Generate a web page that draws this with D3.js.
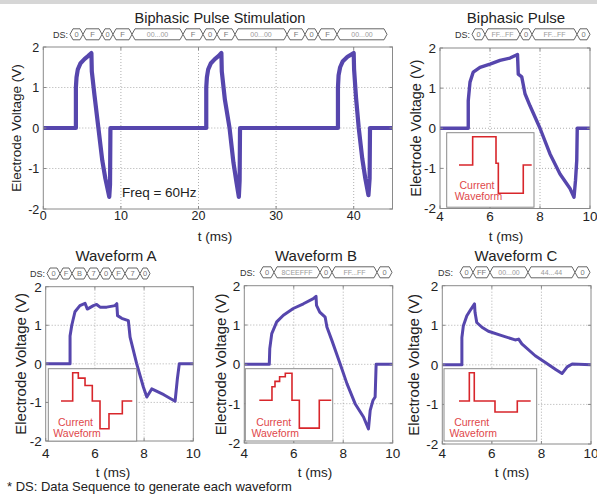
<!DOCTYPE html>
<html><head><meta charset="utf-8">
<script src="https://cdn.jsdelivr.net/npm/d3@7"></script>
<style>
html,body{margin:0;padding:0;background:#fff;}
svg{display:block;font-family:"Liberation Sans",Arial,sans-serif;}
</style></head><body>
<svg id="c" width="597" height="497"></svg>
<script>
// ---------------- DATA ----------------
const panelTitles = ["Biphasic Pulse Stimulation","Biphasic Pulse","Waveform A","Waveform B","Waveform C"];
const xAxisLabel = "t (ms)";
const yAxisLabel = "Electrode Voltage (V)";
const footnote = "* DS: Data Sequence to generate each waveform";
const freqNote = "Freq = 60Hz";
const insetText = ["Current","Waveform"];

const stimTicksX = [0,10,20,30,40];
const waveTicksX = [4,6,8,10];
const voltTicks = [-2,-1,0,1,2];

// [t (ms), V]
const stimTrace = [[0,0],[4.2,0],[4.2,1.0],[4.28,1.25],[4.45,1.45],[4.8,1.6],[5.3,1.7],[5.8,1.78],[6.2,1.85],[6.25,1.4],[6.6,0.8],[7.1,0],[7.6,-0.8],[8.0,-1.25],[8.5,-1.7],[8.6,-1.4],[8.65,0],
  [21.0,0],[21.0,1.0],[21.08,1.25],[21.25,1.45],[21.6,1.6],[22.1,1.7],[22.6,1.78],[22.95,1.85],[23.0,1.4],[23.4,0.7],[24.0,0],[24.5,-0.85],[24.9,-1.35],[25.2,-1.7],[25.3,-1.3],[25.35,0],
  [37.97,0],[37.97,1.0],[38.05,1.3],[38.25,1.5],[38.6,1.65],[39.2,1.76],[40.0,1.85],[40.05,1.45],[40.3,0.75],[40.65,0],[41.1,-0.75],[41.5,-1.25],[41.9,-1.66],[42.05,-1.25],[42.1,0],[45,0]];
const pulseTrace = [[4,0],[5.13,0],[5.13,0.69],[5.2,1.15],[5.33,1.4],[5.6,1.52],[6.0,1.6],[6.4,1.69],[6.8,1.75],[7.1,1.84],[7.13,1.35],[7.27,1.28],[7.4,0.86],[7.6,0.56],[8.0,0],[8.4,-0.64],[8.8,-1.14],[9.2,-1.5],[9.36,-1.72],[9.42,-1.3],[9.47,-0.8],[9.49,0],[10,0]];
const waveATrace = [[4,0],[4.99,0],[4.99,0.72],[5.06,1.0],[5.19,1.35],[5.39,1.51],[5.6,1.57],[5.69,1.42],[5.94,1.51],[6.07,1.54],[6.21,1.47],[6.48,1.47],[6.82,1.51],[6.89,1.56],[6.92,1.25],[7.09,1.18],[7.36,1.12],[7.43,0.69],[7.70,0],[7.97,-0.6],[8.11,-0.86],[8.31,-0.65],[8.8,-0.8],[9.26,-0.97],[9.35,-0.4],[9.43,0],[10,0]];
const waveBTrace = [[4,0],[5.01,0],[5.03,0.4],[5.11,0.78],[5.31,1.08],[5.58,1.25],[5.98,1.42],[6.39,1.54],[6.79,1.67],[6.90,1.73],[6.92,1.5],[7.05,1.33],[7.27,1.2],[7.34,0.95],[7.54,0.61],[7.87,0.02],[8.15,-0.49],[8.48,-1.0],[8.82,-1.34],[9.02,-1.64],[9.09,-1.17],[9.2,-0.92],[9.29,-0.83],[9.33,0],[10,0]];
const waveCTrace = [[4,0],[4.79,0],[4.79,0.69],[4.85,0.99],[4.99,1.24],[5.16,1.41],[5.30,1.54],[5.32,1.33],[5.39,1.07],[5.60,0.95],[5.86,0.85],[6.40,0.74],[6.94,0.63],[7.08,0.65],[7.21,0.53],[7.75,0.23],[8.16,0.06],[8.56,-0.11],[8.83,-0.22],[9.04,-0.05],[9.24,0.02],[10,0]];

// Data sequences (DS)
const dsStim = ["0","F","0","F","00...00","F","0","F","00...00","F","0","F","00...00"];
const dsPulse = ["0","FF...FF","0","FF...FF","0"];
const dsA = ["0","F","B","7","0","F","7","0"];
const dsB = ["0","8CEEFFF","0","FF...FF","0"];
const dsC = ["0","FF","00...00","44...44","0"];

// Inset current waveforms: step edges (% of inset span) and relative levels
const curPulseEdges = [0,18.8,50.9,54.1,88.4,100];
const curPulseLevels = [0,1,0.06,-1,0];
const curAEdges = [0,16.4,24.3,33.7,43.9,54.7,67.3,86,100];
const curALevels = [0,1,0.81,0.55,0,-0.98,-0.45,0];
const curBEdges = [0,17.6,21.8,28.2,36.1,45.4,55.6,83.3,100];
const curBLevels = [0,0.5,0.7,0.87,1,0,-1.03,0];
const curCEdges = [0,14.4,21.3,50.2,81.3,100];
const curCLevels = [0,1,0,-0.39,0];

// ---------------- LAYOUT ----------------
const layout = [
 {trace:stimTrace, xTicks:stimTicksX, xDom:[0,45], xr:[43.3,392.5], yr:[209,47],
  titleX:220, titleY:22.5, titleSize:14.5, yLabX:16, ySize:13.5, xLabX:215, xLabY:241, xSize:13.5,
  tickSize:12.5, tickY:219.5, lw:4.2,
  ds:{labels:dsStim, widths:[13,19,11,19,51,20,14,18,52,18,13,19,50], labelX:53, startX:70, yc:34.3}},
 {trace:pulseTrace, xTicks:waveTicksX, xDom:[4,10], xr:[440,590], yr:[208.5,48],
  titleX:516, titleY:22.5, titleSize:15, yLabX:416, ySize:14.5, xLabX:506, xLabY:241, xSize:13.5,
  tickSize:13.5, tickY:220.5, lw:3.4,
  ds:{labels:dsPulse, widths:[13,35,12,45,13], labelX:455, startX:472, yc:34.3},
  inset:{rect:[446.7,132.7,87.3,74.5], x0:459, x1:531.7, base:165, amp:28.3, tx:477, ty:185, edges:curPulseEdges, levels:curPulseLevels}},
 {trace:waveATrace, xTicks:waveTicksX, xDom:[4,10], xr:[45.7,193.3], yr:[441,286.7],
  titleX:116, titleY:261, titleSize:15, yLabX:21, ySize:15, xLabX:113, xLabY:477, xSize:13.5,
  tickSize:13.5, tickY:458, lw:3,
  ds:{labels:dsA, widths:[13,12,15,13,12,13,15,10], labelX:30, startX:47, yc:273.5},
  inset:{rect:[48.3,368.7,88.4,72.4], x0:61, x1:132.3, base:401, amp:28.3, tx:75.5, ty:422, edges:curAEdges, levels:curALevels}},
 {trace:waveBTrace, xTicks:waveTicksX, xDom:[4,10], xr:[244.3,392.7], yr:[443,285.7],
  titleX:316, titleY:261, titleSize:15, yLabX:221, ySize:15, xLabX:315, xLabY:477, xSize:13.5,
  tickSize:13.5, tickY:458, lw:3,
  ds:{labels:dsB, widths:[14,46,12,45,15], labelX:240, startX:260, yc:272.3},
  inset:{rect:[245.3,368.7,87.4,72.3], x0:259.3, x1:331.3, base:400.3, amp:27, tx:273.7, ty:422, edges:curBEdges, levels:curBLevels}},
 {trace:waveCTrace, xTicks:waveTicksX, xDom:[4,10], xr:[442.3,591], yr:[444,285.7],
  titleX:516, titleY:261, titleSize:15, yLabX:414, ySize:15, xLabX:512, xLabY:477, xSize:13.5,
  tickSize:13.5, tickY:458, lw:3,
  ds:{labels:dsC, widths:[13,17,38,47,15], labelX:438, startX:460, yc:272.3},
  inset:{rect:[444,368.7,92.7,72.3], x0:459, x1:530.7, base:401, amp:28.3, tx:471.7, ty:422, edges:curCEdges, levels:curCLevels}}
];

const traceColor = "#5646ad";
const redColor = "#d8262b";
const frameColor = "#8a8a8a";
const gridColor = "#9a9a9a";
const textColor = "#222";

const svg = d3.select("#c");
svg.append("rect").attr("width",597).attr("height",497).attr("fill","#fff");
svg.append("rect").attr("width",597).attr("height",4).attr("fill","#d6d6d6");

layout.forEach((p,i) => {
  const g = svg.append("g");
  const x = d3.scaleLinear().domain(p.xDom).range(p.xr);
  const y = d3.scaleLinear().domain([-2,2]).range(p.yr);
  const [x0,x1] = p.xr, [yb,yt] = p.yr;

  // grid
  p.xTicks.filter(t => t>p.xDom[0] && t<p.xDom[1]).forEach(t => {
    g.append("line").attr("x1",x(t)).attr("x2",x(t)).attr("y1",yt).attr("y2",yb)
      .attr("stroke",gridColor).attr("stroke-width",0.8).attr("stroke-dasharray","1,2");
  });
  voltTicks.filter(v => v>-2 && v<2).forEach(v => {
    g.append("line").attr("x1",x0).attr("x2",x1).attr("y1",y(v)).attr("y2",y(v))
      .attr("stroke",gridColor).attr("stroke-width",0.8).attr("stroke-dasharray","1,2");
  });

  // trace
  g.append("path").datum(p.trace)
    .attr("d", d3.line().x(d=>x(d[0])).y(d=>y(d[1])))
    .attr("fill","none").attr("stroke",traceColor).attr("stroke-width",p.lw)
    .attr("stroke-linejoin","round");

  // frame
  g.append("rect").attr("x",x0).attr("y",yt).attr("width",x1-x0).attr("height",yb-yt)
    .attr("fill","none").attr("stroke",frameColor).attr("stroke-width",1);

  // ticks inside + labels
  p.xTicks.forEach(t => {
    g.append("line").attr("x1",x(t)).attr("x2",x(t)).attr("y1",yb).attr("y2",yb-3).attr("stroke",frameColor);
    g.append("line").attr("x1",x(t)).attr("x2",x(t)).attr("y1",yt).attr("y2",yt+3).attr("stroke",frameColor);
    g.append("text").attr("x",x(t)).attr("y",p.tickY).attr("text-anchor","middle")
      .attr("font-size",p.tickSize).attr("fill",textColor).text(t);
  });
  voltTicks.forEach(v => {
    g.append("line").attr("x1",x0).attr("x2",x0+3).attr("y1",y(v)).attr("y2",y(v)).attr("stroke",frameColor);
    g.append("line").attr("x1",x1).attr("x2",x1-3).attr("y1",y(v)).attr("y2",y(v)).attr("stroke",frameColor);
    g.append("text").attr("x",x0-4).attr("y",y(v)+p.tickSize*0.36).attr("text-anchor","end")
      .attr("font-size",p.tickSize).attr("fill",textColor).text(v);
  });

  // title, axis labels
  g.append("text").attr("x",p.titleX).attr("y",p.titleY).attr("text-anchor","middle")
    .attr("font-size",p.titleSize).attr("fill",textColor).text(panelTitles[i]);
  g.append("text").attr("x",p.xLabX).attr("y",p.xLabY).attr("text-anchor","middle")
    .attr("font-size",p.xSize).attr("fill",textColor).text(xAxisLabel);
  const yc = (yb+yt)/2;
  g.append("text").attr("transform",`translate(${p.yLabX + p.ySize*0.36},${yc}) rotate(-90)`)
    .attr("text-anchor","middle").attr("font-size",p.ySize).attr("fill",textColor).text(yAxisLabel);

  // DS chain
  const ds = p.ds;
  g.append("text").attr("x",ds.labelX).attr("y",ds.yc+3.2).attr("font-size",9).attr("fill","#333").text("DS:");
  let cx = ds.startX;
  const h = 5.5, s = 3;
  ds.labels.forEach((lab,k) => {
    const w = ds.widths[k];
    const pts = [[cx,ds.yc],[cx+s,ds.yc-h],[cx+w-s,ds.yc-h],[cx+w,ds.yc],[cx+w-s,ds.yc+h],[cx+s,ds.yc+h]];
    g.append("polygon").attr("points",pts.map(q=>q.join(",")).join(" "))
      .attr("fill","#fff").attr("stroke","#555").attr("stroke-width",0.9);
    g.append("text").attr("x",cx+w/2).attr("y",ds.yc+2.6).attr("text-anchor","middle")
      .attr("font-size",lab.length>2?7:7.5).attr("fill",lab.length>2?"#9a9a9a":"#777").text(lab);
    cx += w;
  });

  // inset
  if (p.inset) {
    const q = p.inset;
    g.append("rect").attr("x",q.rect[0]).attr("y",q.rect[1]).attr("width",q.rect[2]).attr("height",q.rect[3])
      .attr("fill","#fff").attr("stroke","#8a8a8a").attr("stroke-width",1);
    const ix = d3.scaleLinear().domain([0,100]).range([q.x0,q.x1]);
    const iy = d3.scaleLinear().domain([-1,1]).range([q.base+q.amp,q.base-q.amp]);
    const pts = q.edges.map((e,k) => [e, k<q.levels.length ? q.levels[k] : q.levels[q.levels.length-1]]);
    g.append("path").datum(pts)
      .attr("d", d3.line().curve(d3.curveStepAfter).x(d=>ix(d[0])).y(d=>iy(d[1])))
      .attr("fill","none").attr("stroke",redColor).attr("stroke-width",1.6);
    insetText.forEach((t,k) => {
      g.append("text").attr("x",q.tx + k*1.5).attr("y",q.ty + k*11.7 + 3.6).attr("text-anchor","middle")
        .attr("font-size",10.5).attr("fill","#e0474a").text(t);
    });
  }
});

// freq note
{
  const p = layout[0];
  const x = d3.scaleLinear().domain(p.xDom).range(p.xr);
  const y = d3.scaleLinear().domain([-2,2]).range(p.yr);
  svg.append("text").attr("x",x(10)+1).attr("y",y(-1.58)+5).attr("font-size",13.5).attr("fill",textColor).text(freqNote);
}
svg.append("text").attr("x",7).attr("y",491).attr("font-size",13).attr("fill",textColor).text(footnote);
</script>
</body></html>
